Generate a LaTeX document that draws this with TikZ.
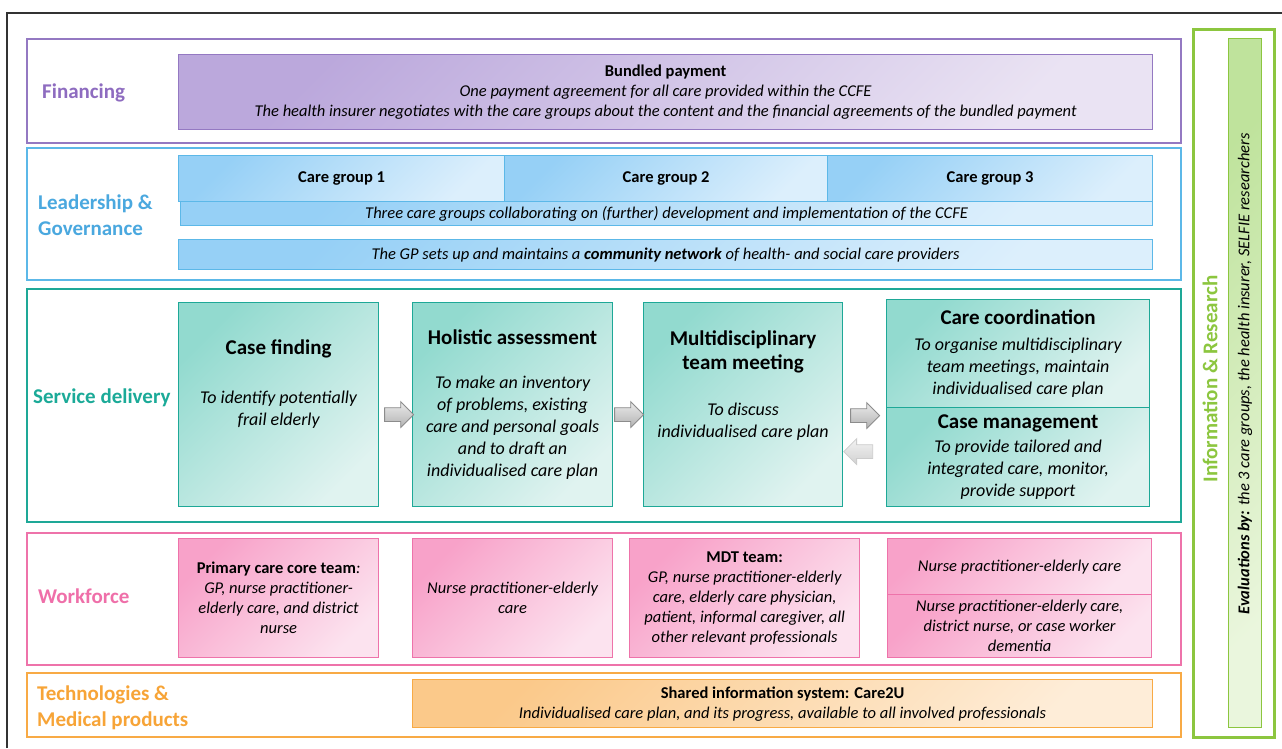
\documentclass[tikz,border=0pt]{standalone}
\usepackage{fontspec}
\setmainfont{Carlito}
\usetikzlibrary{positioning,shapes.arrows}

\definecolor{finline}{HTML}{9479C2}
\definecolor{fintxt}{HTML}{8E6CC0}
\definecolor{finA}{HTML}{BBA8DC}
\definecolor{finB}{HTML}{EAE3F3}
\definecolor{govline}{HTML}{5CB8E8}
\definecolor{govtxt}{HTML}{4AA8DF}
\definecolor{govA}{HTML}{96D0F6}
\definecolor{govB}{HTML}{DCEFFC}
\definecolor{srvline}{HTML}{1EA897}
\definecolor{srvtxt}{HTML}{1BAA98}
\definecolor{srvA}{HTML}{92DACF}
\definecolor{srvB}{HTML}{E0F3F0}
\definecolor{wfline}{HTML}{EE73AA}
\definecolor{wftxt}{HTML}{EF6FA9}
\definecolor{wfA}{HTML}{F8A2C9}
\definecolor{wfB}{HTML}{FCE3EF}
\definecolor{techline}{HTML}{F8AA45}
\definecolor{techtxt}{HTML}{F7A437}
\definecolor{techA}{HTML}{FBC98A}
\definecolor{techB}{HTML}{FEEDD8}
\definecolor{resline}{HTML}{8CC63F}
\definecolor{restxt}{HTML}{8CC63F}
\definecolor{resA}{HTML}{BFE39C}
\definecolor{resB}{HTML}{EAF6DD}

\newcommand\lblsz{\fontsize{21}{26}\selectfont\bfseries}
\newcommand\txtsz{\fontsize{16.5}{20}\selectfont\itshape}
\newcommand\srvsz{\fontsize{18}{22}\selectfont\itshape}
\newcommand\hd[1]{{\upshape\bfseries #1}}
\newcommand\ttl[1]{{\fontsize{21}{24}\selectfont\upshape\bfseries #1}}

\begin{document}
\begin{tikzpicture}[x=1pt,y=-1pt,
	band/.style={draw=#1line,line width=2pt,anchor=north west,inner sep=0pt},
	cbox/.style={draw=#1line,line width=1.2pt,top color=#1A,bottom color=#1B,shading angle=45,
		anchor=north west,align=center,inner sep=2pt,font=\txtsz},
	lbl/.style={text=#1txt,font=\lblsz,anchor=west,align=left,inner sep=0pt},
	sz/.style 2 args={minimum width=#1pt,minimum height=#2pt},
	stxt/.style={font=\srvsz,align=center,inner sep=0pt},
	flow/.style={single arrow,draw=black!45,line width=0.8pt,top color=black!8,bottom color=black!30,
		inner sep=6.5pt,single arrow head extend=6pt,minimum height=29pt}]
	\useasboundingbox[fill=white] (0,0) rectangle (1282,748);
	\draw[line width=1.5pt,black!80] (7,748) -- (7,13) -- (1282,13);

	\node[band=fin,sz={1154}{104}] (fin) at (26,38) {};
	\node[lbl=fin] (finl) at (42,93) {Financing};
	\node[cbox=fin,sz={974}{75}] (bp) at (178,54) {\hd{Bundled payment}\\One payment agreement for all care provided within the CCFE\\The health insurer negotiates with the care groups about the content and the financial agreements of the bundled payment};

	\node[band=gov,sz={1154}{132}] (gov) at (26,147) {};
	\node[lbl=gov] (govl) at (38,215) {Leadership \&\\Governance};
	\node[cbox=gov,sz={326}{46}] (cg1) at (178,155) {\hd{Care group 1}};
	\node[cbox=gov,sz={323}{46}] (cg2) at (504,155) {\hd{Care group 2}};
	\node[cbox=gov,sz={325}{46}] (cg3) at (827,155) {\hd{Care group 3}};
	\node[cbox=gov,sz={972}{24}] (three) at (180,201) {Three care groups collaborating on (further) development and implementation of the CCFE};
	\node[cbox=gov,sz={974}{30}] (net) at (178,239) {The GP sets up and maintains a \textbf{community network} of health- and social care providers};

	\node[band=srv,sz={1154}{233}] (srv) at (26,288) {};
	\node[lbl=srv] (srvl) at (33,398) {Service delivery};
	\node[cbox=srv,sz={200}{204}] (cf) at (178,302) {};
	\node[stxt,below=38pt of cf.north] (cft) {\ttl{Case finding}\\[27pt]To identify potentially\\frail elderly};
	\node[cbox=srv,sz={200}{204},font=\srvsz] (ha) at (412,302) {\ttl{Holistic assessment}\\[22pt]To make an inventory\\of problems, existing\\care and personal goals\\and to draft an\\individualised care plan};
	\node[cbox=srv,sz={199}{204}] (mdt) at (643,302) {};
	\node[stxt,below=29pt of mdt.north] (mdtx) {\ttl{Multidisciplinary}\\[2pt]\ttl{team meeting}\\[24pt]To discuss\\individualised care plan};
	\node[cbox=srv,sz={263}{108},font=\srvsz] (cc) at (886,299) {\ttl{Care coordination}\\[4pt]To organise multidisciplinary\\team meetings, maintain\\individualised care plan};
	\node[cbox=srv,sz={263}{99},font=\srvsz] (cm) at (886,407) {\ttl{Case management}\\[2pt]To provide tailored and\\integrated care, monitor,\\provide support};
	\node[flow,right=5pt of cf,yshift=-10pt] (a1) {};
	\node[flow,right=1pt of ha,yshift=-10pt] (a2) {};
	\node[flow,right=7pt of mdt,yshift=-11pt] (a3) {};
	\node[flow,shape border rotate=180,draw=black!20,top color=black!5,bottom color=black!18] (a4) at (a3.center) [yshift=-36pt] {};

	\node[band=wf,sz={1154}{132}] (wf) at (26,532) {};
	\node[lbl=wf] (wfl) at (38,596) {Workforce};
	\node[cbox=wf,sz={200}{119}] (pc) at (178,538) {\hd{Primary care core team}:\\GP, nurse practitioner-\\elderly care, and district\\nurse};
	\node[cbox=wf,sz={200}{119}] (npe) at (412,538) {Nurse practitioner-elderly\\care};
	\node[cbox=wf,sz={230}{119}] (mdtt) at (629,538) {\hd{MDT team:}\\GP, nurse practitioner-elderly\\care, elderly care physician,\\patient, informal caregiver, all\\other relevant professionals};
	\node[cbox=wf,sz={264}{56}] (npr) at (887,538) {Nurse practitioner-elderly care};
	\node[cbox=wf,sz={264}{63}] (npc) at (887,594) {Nurse practitioner-elderly care,\\district nurse, or case worker\\dementia};

	\node[band=tech,sz={1154}{64}] (tech) at (26,672) {};
	\node[lbl=tech] (techl) at (37,708) {Technologies \&\\Medical products};
	\node[cbox=tech,sz={740}{48}] (care2u) at (412,679) {\hd{Shared information system: Care2U}\\Individualised care plan, and its progress, available to all involved professionals};

	\node[band=res,line width=2.5pt,sz={81}{708}] (res) at (1192,28) {};
	\node[cbox=res,sz={33}{689}] (eval) at (1228,38) {};
	\node[lbl=res,rotate=90,anchor=center] (resl) at (1210,379) {Information \& Research};
	\node[font=\txtsz,rotate=90,inner sep=0pt] (evalt) at (1245,374) {\textbf{Evaluations by:} the 3 care groups, the health insurer, SELFIE researchers};
\end{tikzpicture}
\end{document}
